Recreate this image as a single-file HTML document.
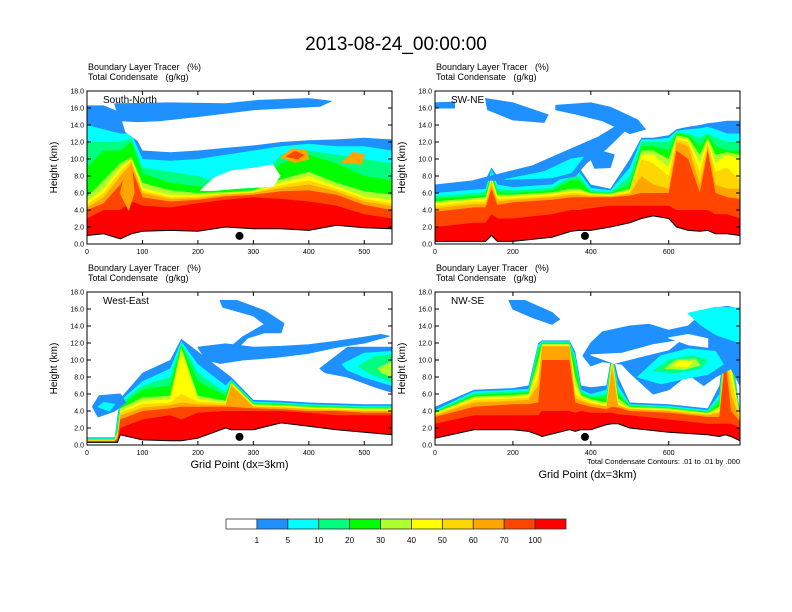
<!DOCTYPE html>
<html><head><meta charset="utf-8">
<style>
html,body{margin:0;padding:0;background:#fff;}
svg{display:block;font-family:"Liberation Sans",Arial,sans-serif;}
text{white-space:pre;}
</style></head>
<body>
<svg id="c" width="792" height="612" viewBox="0 0 792 612">
<rect width="792" height="612" fill="#fff"/>
<text x="396" y="50" font-size="19" text-anchor="middle">2013-08-24_00:00:00</text>
</svg>
<script>
const levelColors = ["#1e90ff","#00ffff","#00ff7f","#00ff00","#adff2f","#ffff00","#ffd700","#ffa500","#ff4500","#ff0000"];
const colorbarLabels = ["1","5","10","20","30","40","50","60","70","100"];
const colorbarColors = ["#ffffff","#1e90ff","#00ffff","#00ff7f","#00ff00","#adff2f","#ffff00","#ffd700","#ffa500","#ff4500","#ff0000"];
const yTicks = [0,2,4,6,8,10,12,14,16,18];

// Panel 1: South-North
const p1X = [0,30,60,80,100,150,200,250,300,350,400,450,500,550];
const p1Terrain = [1.0,1.2,0.6,1.2,1.5,1.6,1.5,2.0,1.8,1.8,1.6,2.2,1.9,1.8];
const p1Layers = [
 [16.3,16.3,15.5,13.5,11.0,10.8,11.0,11.3,11.6,12.0,12.2,12.3,12.5,12.3],
 [14.0,13.5,13.0,13.0,10.0,9.8,10.0,10.5,11.0,11.5,11.8,11.5,11.5,11.0],
 [12.0,12.0,12.0,12.5,9.0,8.5,8.0,7.0,7.0,10.5,11.0,10.5,10.0,9.5],
 [9.0,11.0,11.0,12.0,8.3,7.2,6.8,6.5,6.5,9.5,10.5,9.5,8.0,7.5],
 [5.5,7.5,9.5,10.2,7.2,6.3,6.0,6.1,6.3,7.6,8.5,7.2,6.2,5.8],
 [5.0,6.5,9.0,10.0,6.6,5.8,5.8,6.0,6.2,7.2,8.0,6.8,5.6,5.2],
 [4.6,6.0,8.5,9.8,6.3,5.5,5.6,5.9,6.1,6.9,7.5,6.5,5.3,4.8],
 [4.3,5.5,8.0,9.5,6.0,5.3,5.4,5.8,6.0,6.6,7.0,6.2,5.0,4.5],
 [4.0,4.8,7.0,9.0,5.5,5.0,5.2,5.6,5.8,6.2,6.3,5.8,4.6,4.0],
 [3.0,4.0,4.0,5.0,4.5,4.3,4.8,5.2,5.5,5.3,5.0,4.5,3.5,3.0]];
const p1Shapes = [
 ["#ffffff",[[60,15.3],[100,14.4],[200,14.6],[300,14.4],[420,12.8],[350,12.3],[300,11.9],[200,11.1],[110,11.3],[70,13.2]]],
 ["#1e90ff",[[50,16.5],[150,16.6],[250,16.5],[310,16.9],[400,17.1],[440,16.8],[420,16.2],[300,15.8],[200,15.0],[130,14.5],[90,14.4],[60,14.5]]],
 ["#ffffff",[[205,6.3],[230,7.8],[260,8.6],[300,8.9],[335,9.3],[348,8.0],[335,6.8],[280,6.6],[230,6.3]]],
 ["#ffa500",[[350,10.2],[370,11.2],[395,11.0],[400,10.0],[375,9.6]]],
 ["#ff4500",[[360,10.3],[375,10.9],[390,10.5],[380,10.0]]],
 ["#ffa500",[[460,9.6],[480,10.8],[500,10.5],[495,9.4]]],
 ["#ffa500",[[60,6],[70,8.5],[80,9.5],[85,6],[75,4]]]];

// Panel 2: SW-NE
const p2X = [0,100,130,145,160,200,300,350,370,400,450,500,530,560,600,620,650,680,700,720,750,783];
const p2Terrain = [0.3,0.3,0.3,1.0,0.3,0.3,0.8,1.5,1.6,1.6,2.0,2.5,3.0,3.3,3.0,2.0,1.6,1.5,1.6,1.2,1.2,1.0];
const p2Layers = [
 [7,7.5,7.6,9,8,7.6,8,9,9,7,6.5,10,12.5,12.5,12.8,13.5,13.8,14,14.2,14.3,14.5,14.5],
 [6,6.4,6.5,8.8,7,6.7,7.0,8.5,8.5,6.6,6.3,9,12.3,12.3,12.5,13.3,13.5,13.6,13.8,13.5,13,13],
 [5.6,6.0,6.1,8.5,6.5,6.3,6.6,8,8,6.3,6.1,8,12,12,12,13.2,13,12.5,13,12.5,12,12],
 [5.3,5.7,5.8,8.3,6.1,6.0,6.3,7.5,7.5,6.1,6.0,7,11.5,11.5,11,13.0,12.8,11.5,12.8,11.5,11,11],
 [5.0,5.4,5.5,8,5.8,5.8,6.1,6.5,6.5,6.0,5.9,6.5,11,11,10,12.8,12.5,10.5,12.5,10.5,10.8,10.5],
 [4.8,5.2,5.3,7.8,5.6,5.6,5.9,6.2,6.2,5.9,5.8,6.3,10.5,10.5,9,12.5,12.3,9.5,12.3,9.5,10.5,10],
 [4.5,5.0,5.0,7.5,5.3,5.4,5.7,6.0,6.0,5.8,5.7,6.1,10,9.5,8,12.3,12,8.5,12,8.5,9,7.5],
 [4.2,4.7,4.7,7,5.0,5.2,5.5,5.8,5.8,5.6,5.6,5.9,8,7,6.5,12,11.5,7,11.5,7,6.5,6.5],
 [3.8,4.3,4.3,6.5,4.6,4.9,5.2,5.5,5.5,5.5,5.5,5.7,6,6,6,11,10,6,11,6,5.5,5.3],
 [2.0,2.5,2.5,3.5,3.0,3.0,3.5,4.0,4.0,4.2,4.5,4.5,4.5,4.5,4.5,4.0,4.0,4.0,4.0,3.5,3.5,3.0]];
const p2Shapes = [
 ["#1e90ff",[[100,7.5],[250,9.2],[350,11.2],[420,12.6],[470,14.0],[485,13.2],[440,11.2],[390,9.6],[360,8.0],[300,7.5],[200,7.5]]],
 ["#00ffff",[[180,7.6],[280,8.5],[350,10.0],[380,10.2],[350,8.4],[300,7.8]]],
 ["#1e90ff",[[0,16.6],[50,16.7],[50,16.0],[0,16.0]]],
 ["#1e90ff",[[130,17.1],[200,16.6],[290,15.2],[280,14.3],[200,14.6],[135,15.8]]],
 ["#1e90ff",[[310,16.3],[400,16.6],[450,16.1],[520,14.6],[540,13.5],[500,13.0],[430,14.5],[360,15.3],[310,15.8]]],
 ["#1e90ff",[[400,10.0],[430,10.9],[460,10.5],[450,9.0],[410,8.9]]]];

// Panel 3: West-East
const p3X = [0,50,55,60,100,150,170,200,250,260,300,350,400,450,500,550];
const p3Terrain = [0.3,0.3,0.3,1.2,0.6,0.5,0.5,0.8,2.0,1.8,1.8,2.6,2.2,1.8,1.5,1.2];
const p3Layers = [
 [0.9,0.9,3.5,5.5,8.5,10.0,12.5,11.0,8.5,8.0,5.3,5.2,5.0,4.9,4.8,4.8],
 [0.8,0.8,3.0,5.2,7.5,9.0,12.2,9.5,7.0,7.7,5.1,5.0,4.8,4.7,4.6,4.6],
 [0.75,0.75,2.5,4.9,7.0,8.0,12.0,8.5,6.2,7.6,5.0,4.9,4.7,4.6,4.5,4.5],
 [0.7,0.7,2.0,4.6,6.5,7.0,11.8,7.5,5.8,7.5,4.9,4.8,4.6,4.5,4.4,4.4],
 [0.65,0.65,1.6,4.3,5.6,5.8,11.5,5.8,5.2,7.4,4.8,4.7,4.5,4.4,4.3,4.3],
 [0.6,0.6,1.4,4.0,5.2,5.4,11.0,5.4,5.0,7.3,4.7,4.6,4.4,4.3,4.2,4.2],
 [0.55,0.55,1.2,3.8,4.8,5.0,6.0,5.1,4.9,7.2,4.6,4.5,4.3,4.2,4.1,4.1],
 [0.5,0.5,1.0,3.5,4.4,4.7,5.0,4.8,4.7,7.0,4.5,4.4,4.2,4.1,4.0,4.0],
 [0.45,0.45,0.8,3.0,4.0,4.3,4.5,4.5,4.5,4.5,4.3,4.2,4.0,4.0,3.8,3.8],
 [0.4,0.4,0.5,2.0,3.0,3.5,3.0,3.8,4.0,4.0,4.0,4.0,3.8,3.5,3.5,3.5]];
const p3Shapes = [
 ["#1e90ff",[[10,4.5],[22,5.8],[60,6.0],[70,5.0],[50,4.0],[20,3.3]]],
 ["#00ffff",[[20,4.5],[30,5.0],[50,4.8],[40,4.0]]],
 ["#1e90ff",[[240,17.0],[270,17.0],[320,15.8],[355,14.3],[350,13.2],[320,13.2],[290,12.6],[270,11.3],[255,11.3],[280,12.7],[320,14.2],[300,15.2],[245,16.2]]],
 ["#1e90ff",[[200,11.5],[250,11.9],[300,11.5],[350,11.6],[400,11.8],[450,12.2],[500,12.7],[530,13.0],[545,12.8],[500,12.0],[450,11.5],[400,10.8],[340,10.3],[280,10.0],[240,9.6],[215,10]]],
 ["#1e90ff",[[420,9.0],[470,11.5],[550,11.5],[550,6.2],[520,6.8],[470,8.0],[430,8.5]]],
 ["#00ffff",[[460,9.5],[500,10.8],[550,11.0],[550,7.0],[500,8.0],[470,8.8]]],
 ["#00ff7f",[[490,9.3],[520,10.4],[550,10.6],[550,7.4],[510,8.4]]],
 ["#adff2f",[[525,9.0],[550,9.8],[550,8.0],[532,8.5]]]];

// Panel 4: NW-SE
const p4X = [0,100,200,240,265,275,345,360,375,400,440,455,470,500,600,700,730,745,760,783];
const p4Terrain = [0.8,1.8,1.8,1.6,1.2,1.0,1.8,1.6,1.8,1.8,2.4,2.5,2.5,2.0,1.5,1.2,1.0,1.2,1.0,0.5];
const p4Layers = [
 [4.5,6.5,6.7,7,12,12.3,12.3,11,7,6.8,7,11,8,5.0,4.8,4.3,7,12.5,12,3.8],
 [4.1,6.3,6.5,6.6,11.8,12.2,12.2,10.5,6.5,6.0,6.5,10.8,7,4.8,4.6,4.1,6,12.4,11.5,3.6],
 [4.0,6.1,6.3,6.4,11.5,12.1,12.1,10,6.3,5.8,6,10.7,6.5,4.7,4.5,4.0,5.5,12.3,11,3.5],
 [3.9,5.9,6.1,6.2,11,12.0,12.0,9.5,6.1,5.6,5.5,10.6,6,4.6,4.4,3.9,5,12.2,10.5,3.4],
 [3.8,5.7,5.9,6.0,10,11.9,11.9,8,5.9,5.4,5,10.5,5.5,4.5,4.3,3.8,4.5,12,10,3.3],
 [3.7,5.5,5.7,5.8,9,11.8,11.8,7,5.7,5.2,4.8,10.3,5,4.4,4.2,3.7,4.2,11.8,9,3.2],
 [3.6,5.3,5.5,5.6,8,11.7,11.7,6,5.5,5.0,4.6,10,4.8,4.3,4.1,3.6,4,11.5,8,3.1],
 [3.5,5.0,5.2,5.3,7,11.6,11.6,5.5,5.2,4.8,4.5,9,4.6,4.2,4.0,3.5,3.8,11,6,3.0],
 [3.3,4.5,4.8,4.8,5,10,10,5,4.8,4.5,4.2,4.5,4.4,4.0,3.8,3.3,3.3,10,4,2.8],
 [2.5,3.5,3.5,3.5,3.5,4,4,3.8,4.0,3.8,3.8,3.8,3.6,3.5,3.0,2.5,2.5,2.5,2.5,2.0]];
const p4Shapes = [
 ["#1e90ff",[[190,17.0],[230,17.0],[300,15.6],[320,14.8],[300,14.2],[250,15.0],[200,16.0]]],
 ["#1e90ff",[[380,10.5],[400,12.0],[430,13.3],[500,14.0],[550,14.2],[600,13.5],[650,14.0],[700,16.0],[750,16.3],[783,16.0],[783,7.0],[760,9.0],[720,8.0],[690,7.0],[650,8.3],[600,6.5],[560,6.0],[500,8.5],[480,9.5],[430,9.8],[400,9.3]]],
 ["#00ffff",[[650,15.5],[720,16.2],[783,16.1],[783,12.0],[720,13.0],[680,14.2]]],
 ["#ffffff",[[400,10.6],[480,10.8],[560,11.8],[630,12.3],[600,11.2],[520,10.3],[460,9.6]]],
 ["#ffffff",[[600,12.6],[650,13.0],[700,12.5],[700,11.5],[650,11.8]]],
 ["#00ffff",[[520,8.0],[580,10.5],[650,11.3],[720,11.0],[740,9.5],[700,8.3],[640,7.8],[580,7.2]]],
 ["#00ff7f",[[560,8.7],[600,10.0],[660,10.5],[700,10.0],[680,9.0],[620,8.5]]],
 ["#adff2f",[[590,9.0],[620,10.0],[670,10.1],[680,9.4],[640,8.9]]],
 ["#ffff00",[[610,9.3],[630,9.9],[660,9.8],[650,9.2]]]];

const svg = document.getElementById('c');
const NS = 'http://www.w3.org/2000/svg';
function mk(tag, attrs, parent){const e=document.createElementNS(NS,tag);for(const k in attrs)e.setAttribute(k,attrs[k]);(parent||svg).appendChild(e);return e;}

const panels = [
 {x0:87,y0:91,w:305,h:153,xmax:550,xt:[0,100,200,300,400,500],title:"South-North",xs:p1X,ter:p1Terrain,lay:p1Layers,sh:p1Shapes,dot:275,name:"panel-south-north",xlab:false},
 {x0:435,y0:91,w:305,h:153,xmax:783,xt:[0,200,400,600],title:"SW-NE",xs:p2X,ter:p2Terrain,lay:p2Layers,sh:p2Shapes,dot:385,name:"panel-sw-ne",xlab:false},
 {x0:87,y0:292,w:305,h:153,xmax:550,xt:[0,100,200,300,400,500],title:"West-East",xs:p3X,ter:p3Terrain,lay:p3Layers,sh:p3Shapes,dot:275,name:"panel-west-east",xlab:468},
 {x0:435,y0:292,w:305,h:153,xmax:783,xt:[0,200,400,600],title:"NW-SE",xs:p4X,ter:p4Terrain,lay:p4Layers,sh:p4Shapes,dot:385,name:"panel-nw-se",xlab:478}
];

panels.forEach((p,pi)=>{
  const g = mk('g',{});
  
  
  const sx = v => p.x0 + v/p.xmax*p.w;
  const sy = z => p.y0 + p.h - z/18*p.h;
  const cid = 'clip'+pi;
  const cp = mk('clipPath',{id:cid},g); mk('rect',{x:p.x0,y:p.y0,width:p.w,height:p.h},cp);
  const pg = mk('g',{'clip-path':'url(#'+cid+')'},g);
  p.lay.forEach((tops,li)=>{
    let d='M'+sx(p.xs[0])+','+sy(0);
    p.xs.forEach((x,i)=>{d+=' L'+sx(x).toFixed(1)+','+sy(tops[i]).toFixed(1);});
    d+=' L'+sx(p.xs[p.xs.length-1])+','+sy(0)+' Z';
    const a = mk('path',{d:d,fill:levelColors[li]},pg);
    
    
  });
  p.sh.forEach(s=>{
    const pts = s[1].map(q=>sx(q[0]).toFixed(1)+','+sy(q[1]).toFixed(1)).join(' ');
    const e = mk('polygon',{points:pts,fill:s[0],'stroke':s[0],'stroke-width':1,'stroke-linejoin':'round'},pg);
    
    
  });
  let d='M'+sx(p.xs[0])+','+sy(0);
  p.xs.forEach((x,i)=>{d+=' L'+sx(x).toFixed(1)+','+sy(p.ter[i]).toFixed(1);});
  d+=' L'+sx(p.xs[p.xs.length-1])+','+sy(0)+' Z';
  const t = mk('path',{d:d,fill:'#fff',stroke:'#000','stroke-width':1},pg);
  
  
  const dot = mk('circle',{cx:sx(p.dot),cy:sy(0.95),r:4,fill:'#000'},g);
  
  
  const fr = mk('rect',{x:p.x0,y:p.y0,width:p.w,height:p.h,fill:'none',stroke:'#000','stroke-width':1},g);
  
  
  yTicks.forEach(v=>{
    const y=sy(v);
    mk('line',{x1:p.x0,x2:p.x0+4,y1:y,y2:y,stroke:'#000'},g);
    mk('line',{x1:p.x0+p.w,x2:p.x0+p.w-4,y1:y,y2:y,stroke:'#000'},g);
    const tl = mk('text',{x:p.x0-3,y:y+2.5,'font-size':7,'text-anchor':'end'},g);
    tl.textContent = v.toFixed(1);
    
    
  });
  p.xt.forEach(v=>{
    const x=sx(v);
    mk('line',{x1:x,x2:x,y1:p.y0+p.h,y2:p.y0+p.h-4,stroke:'#000'},g);
    mk('line',{x1:x,x2:x,y1:p.y0,y2:p.y0+4,stroke:'#000'},g);
    const tl = mk('text',{x:x,y:p.y0+p.h+10,'font-size':7,'text-anchor':'middle'},g);
    tl.textContent = v;
    
    
  });
  const h1 = mk('text',{x:p.x0+1,y:p.y0-21,'font-size':9,'xml:space':'preserve'},g); h1.textContent='Boundary Layer Tracer   (%)';
  
  
  const h2 = mk('text',{x:p.x0+1,y:p.y0-11,'font-size':9,'xml:space':'preserve'},g); h2.textContent='Total Condensate   (g/kg)';
  
  
  const lb = mk('text',{x:p.x0+16,y:p.y0+12,'font-size':10},g); lb.textContent=p.title;
  
  
  const yt = mk('text',{x:0,y:0,'font-size':10,'text-anchor':'middle',transform:'translate('+(p.x0-30)+','+(p.y0+p.h/2)+') rotate(-90)'},g);
  yt.textContent='Height (km)';
  
  
  if(p.xlab){
    const xt = mk('text',{x:p.x0+p.w/2,y:p.xlab,'font-size':11,'text-anchor':'middle'},g);
    xt.textContent='Grid Point (dx=3km)';
    
    
  }
});
const note = mk('text',{x:740,y:464,'font-size':7.5,'text-anchor':'end'});
note.textContent='Total Condensate Contours: .01 to .01 by .000';



const cb = mk('g',{});


const cbx=226, cbw=340, cby=519, cbh=10, bw=cbw/colorbarColors.length;
colorbarColors.forEach((c,i)=>{
  const r = mk('rect',{x:cbx+i*bw,y:cby,width:bw,height:cbh,fill:c,stroke:'#333','stroke-width':0.8},cb);
  
  
});
colorbarLabels.forEach((l,i)=>{
  const t = mk('text',{x:cbx+(i+1)*bw,y:cby+24,'font-size':8,'text-anchor':'middle'},cb);
  t.textContent=l;
  
  
});
</script>
</body></html>
